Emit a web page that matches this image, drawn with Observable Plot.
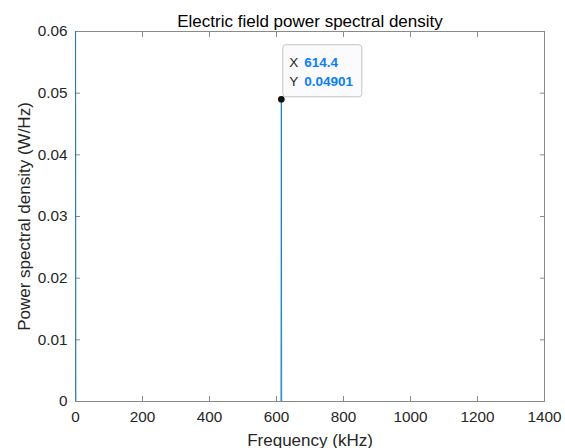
<!DOCTYPE html>
<html>
<head>
<meta charset="utf-8">
<script src="https://cdn.jsdelivr.net/npm/d3@7"></script>
<script src="https://cdn.jsdelivr.net/npm/@observablehq/plot@0.6"></script>
<style>
  html, body { margin: 0; padding: 0; background: #fff; }
  svg { display: block; }
</style>
</head>
<body>
<div id="chart"></div>
<script>
// Data
const freqKHz = [0, 1.2, 613.2, 614.4, 615.6, 1248];
const psd     = [0.08, 0, 0, 0.04901, 0, 0];
const tipX = 614.4;
const tipY = 0.04901;
const xTicks = [0, 200, 400, 600, 800, 1000, 1200, 1400];
const xTickLabels = ["0", "200", "400", "600", "800", "1000", "1200", "1400"];
const yTicks = [0, 0.01, 0.02, 0.03, 0.04, 0.05, 0.06];
const yTickLabels = ["0", "0.01", "0.02", "0.03", "0.04", "0.05", "0.06"];
const titleText = "Electric field power spectral density";
const xLabel = "Frequency (kHz)";
const yLabel = "Power spectral density (W/Hz)";

const series = freqKHz.map((f, i) => ({f, p: psd[i]}));
const tip = [{x: tipX, y: tipY}];

const axisColor = "#262626";
const frameColor = "#8a8a8a";
const lineColor = "#0072BD";
const tipBlue = "#0a80f5";
const font = "Liberation Sans, Arial, Helvetica, sans-serif";

const chart = Plot.plot({
  width: 565,
  height: 448,
  marginLeft: 75,
  marginRight: 21,
  marginTop: 31,
  marginBottom: 47,
  style: {fontFamily: font, background: "#fff", overflow: "visible"},
  x: {domain: [0, 1400]},
  y: {domain: [0, 0.06]},
  marks: [
    Plot.frame({stroke: frameColor, strokeWidth: 1}),
    // inward ticks on all four sides
    Plot.axisX(xTicks, {anchor: "bottom", tickSize: 5, dy: -5, tickFormat: () => "", stroke: frameColor, label: null}),
    Plot.axisX(xTicks, {anchor: "top", tickSize: 5, dy: 5, tickFormat: () => "", stroke: frameColor, label: null}),
    Plot.axisY(yTicks, {anchor: "left", tickSize: 5, dx: 5, tickFormat: () => "", stroke: frameColor, label: null}),
    Plot.axisY(yTicks, {anchor: "right", tickSize: 5, dx: -5, tickFormat: () => "", stroke: frameColor, label: null}),
    // tick labels
    Plot.axisX(xTicks, {anchor: "bottom", tickSize: 0, tickPadding: 10, tickFormat: (d, i) => xTickLabels[i], fontSize: 15.3, fill: axisColor, label: null}),
    Plot.axisY(yTicks, {anchor: "left", tickSize: 0, tickPadding: 8, tickFormat: (d, i) => yTickLabels[i], fontSize: 15.3, fill: axisColor, label: null}),
    // data line
    Plot.line(series, {x: "f", y: "p", stroke: lineColor, strokeWidth: 0.8, clip: true}),
    // title and axis labels
    Plot.text([titleText], {frameAnchor: "top", dy: -5, lineAnchor: "bottom", text: d => d, fontSize: 17, fill: "#000"}),
    Plot.text([xLabel], {frameAnchor: "bottom", dy: 44, lineAnchor: "bottom", text: d => d, fontSize: 17, fill: axisColor}),
    Plot.text([yLabel], {frameAnchor: "left", dx: -46, rotate: -90, textAnchor: "middle", lineAnchor: "bottom", text: d => d, fontSize: 17, fill: axisColor}),
    // data tip
    Plot.rect(tip, {x1: "x", x2: "x", y1: "y", y2: "y", insetLeft: 2, insetRight: -81, insetTop: -54, insetBottom: 2, fill: "#fbfbfe", stroke: "#c4c4c4", strokeWidth: 1, rx: 3}),
    Plot.dot(tip, {x: "x", y: "y", r: 2.6, fill: "#111", stroke: "#111"}),
    Plot.text(tip, {x: "x", y: "y", text: () => "X", dx: 8, dy: -32, textAnchor: "start", lineAnchor: "bottom", fontSize: 13.5, fill: "#262626"}),
    Plot.text(tip, {x: "x", y: "y", text: d => String(d.x), dx: 23, dy: -32, textAnchor: "start", lineAnchor: "bottom", fontSize: 13.5, fontWeight: "bold", fill: tipBlue}),
    Plot.text(tip, {x: "x", y: "y", text: () => "Y", dx: 8, dy: -13, textAnchor: "start", lineAnchor: "bottom", fontSize: 13.5, fill: "#262626"}),
    Plot.text(tip, {x: "x", y: "y", text: d => String(d.y), dx: 23, dy: -13, textAnchor: "start", lineAnchor: "bottom", fontSize: 13.5, fontWeight: "bold", fill: tipBlue})
  ]
});
document.getElementById("chart").appendChild(chart);
</script>
</body>
</html>
